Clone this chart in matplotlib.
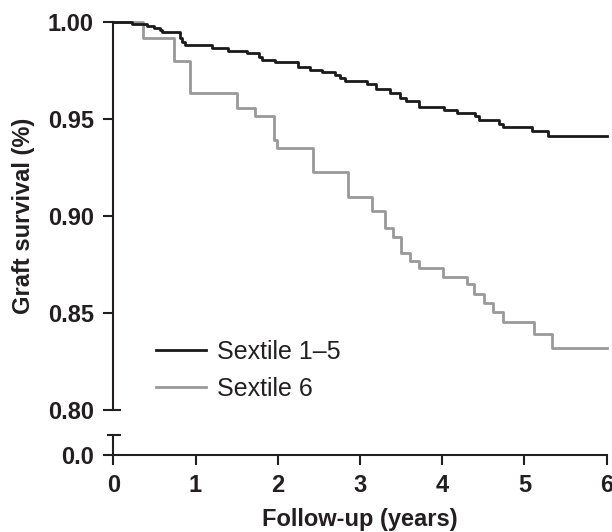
import matplotlib
matplotlib.use("Agg")
import matplotlib.pyplot as plt

# Kaplan-Meier style step data
years_s15 = [0, 0.227, 0.41, 0.49, 0.563, 0.59, 0.814, 0.834, 0.875, 1.199, 1.40, 1.624,
             1.766, 1.806, 1.968, 2.252, 2.393, 2.535, 2.697, 2.757, 2.818, 3.08, 3.20,
             3.36, 3.49, 3.555, 3.72, 4.02, 4.18, 4.397, 4.45, 4.69, 4.74, 5.09, 5.29, 6.0]
surv_s15 = [1.0, 0.9988, 0.998, 0.9969, 0.9959, 0.9947, 0.9917, 0.9895, 0.9879, 0.9864,
            0.985, 0.984, 0.982, 0.9806, 0.9794, 0.9767, 0.9755, 0.9741, 0.9728, 0.9709,
            0.9695, 0.9679, 0.9653, 0.9636, 0.9607, 0.9592, 0.9561, 0.9546, 0.9529,
            0.9514, 0.9495, 0.9474, 0.9459, 0.9437, 0.9412, 0.9412]

years_s6 = [0, 0.36, 0.741, 0.927, 1.502, 1.725, 1.956, 1.988, 2.426, 2.86, 3.14, 3.31,
            3.40, 3.50, 3.61, 3.72, 4.01, 4.30, 4.39, 4.51, 4.62, 4.74, 5.12, 5.34, 6.0]
surv_s6 = [1.0, 0.9917, 0.9798, 0.9636, 0.9556, 0.9517, 0.939, 0.935, 0.9228, 0.910,
           0.9024, 0.8939, 0.8893, 0.8811, 0.8769, 0.873, 0.8687, 0.865, 0.8599, 0.8551,
           0.8505, 0.8454, 0.8391, 0.8321, 0.8321]

labels = ["Sextile 1\u20135", "Sextile 6"]
yticks_top = [0.80, 0.85, 0.90, 0.95, 1.00]
xticks = [0, 1, 2, 3, 4, 5, 6]

ink = "#231f20"
plt.rcParams["font.family"] = ["Liberation Sans", "DejaVu Sans"]

W, H = 612, 532
fig = plt.figure(figsize=(W / 100, H / 100), dpi=100)

x0, x1 = 113.3, 606.7
ax = fig.add_axes([x0 / W, 1 - 410 / H, (x1 - x0) / W, (410 - 22) / H])
axb = fig.add_axes([x0 / W, 1 - 455 / H, (x1 - x0) / W, (455 - 435) / H])

ax.plot(years_s15, surv_s15, drawstyle="steps-post", color="#1a1a1a", lw=2,
        label=labels[0], clip_on=False, zorder=3)
ax.plot(years_s6, surv_s6, drawstyle="steps-post", color="#999999", lw=2,
        label=labels[1], clip_on=False, zorder=2)

ax.set_xlim(0, 6)
ax.set_ylim(0.80, 1.00)
ax.set_yticks(yticks_top)
ax.set_yticklabels(["%.2f" % v for v in yticks_top])
ax.set_xticks([])
for s in ["top", "right", "bottom"]:
    ax.spines[s].set_visible(False)
ax.spines["left"].set_linewidth(1.5)
ax.spines["left"].set_color(ink)
ax.tick_params(axis="y", direction="out", length=7, width=1.5, color=ink, pad=7,
               labelsize=17, labelcolor=ink)
for t in ax.get_yticklabels():
    t.set_fontweight("bold")

axb.set_xlim(0, 6)
axb.set_ylim(0, 1)
axb.set_yticks([0])
axb.set_yticklabels(["0.0"])
axb.set_xticks(xticks)
axb.set_xticklabels([str(v) for v in xticks])
for s in ["top", "right"]:
    axb.spines[s].set_visible(False)
for s in ["left", "bottom"]:
    axb.spines[s].set_linewidth(1.5)
    axb.spines[s].set_color(ink)
axb.tick_params(direction="out", length=7, width=1.5, color=ink, pad=7,
                labelsize=17, labelcolor=ink)
for t in axb.get_xticklabels() + axb.get_yticklabels():
    t.set_fontweight("bold")

# axis break caps
axw = x1 - x0
ax.plot([0, 7.4 / axw], [0, 0], transform=ax.transAxes, color=ink, lw=1.5,
        clip_on=False, solid_capstyle="butt")
axb.plot([-6.3 / axw, 7.4 / axw], [1, 1], transform=axb.transAxes, color=ink, lw=1.5,
         clip_on=False, solid_capstyle="butt")

leg = ax.legend(loc="center left", bbox_to_anchor=((156 - x0) / axw, (410 - 370.4) / 388),
                frameon=False, fontsize=18, handlelength=2.0, handletextpad=0.45,
                labelspacing=0.5, borderpad=0, borderaxespad=0)
for t in leg.get_texts():
    t.set_color(ink)

fig.text((x0 + x1) / 2 / W, 1 - 526 / H, "Follow-up (years)", ha="center", va="baseline",
         fontsize=17, fontweight="bold", color=ink)
fig.text(24 / W, 1 - 216 / H, "Graft survival (%)", ha="center", va="center", rotation=90,
         fontsize=17, fontweight="bold", color=ink)

fig.savefig("out.png", dpi=100)
